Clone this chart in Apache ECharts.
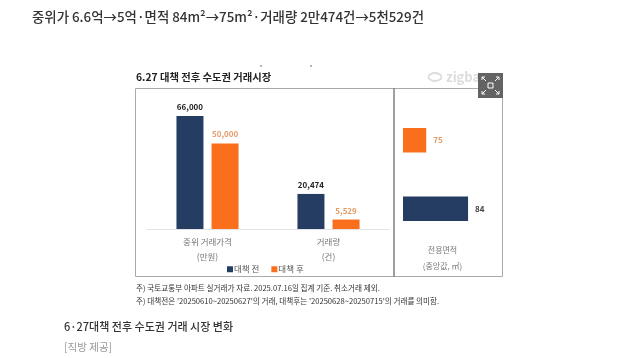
<!DOCTYPE html>
<html><head><meta charset="utf-8">
<style>html,body{margin:0;padding:0;background:#fff}#c{width:632px;height:358px}</style>
<script src="https://cdn.jsdelivr.net/npm/echarts@6/dist/echarts.min.js"></script>
</head><body><div id="c"></div>
<script>
const categories = ['중위 거래가격\n(만원)', '거래량\n(건)'];
const beforeValues = [66000, 20474];
const afterValues = [50000, 5529];
const areaCategories = ['전', '후'];
const areaBefore = [84, null];
const areaAfter = [null, 75];
const headline = '중위가 6.6억→5억·면적 84m²→75m²·거래량 2만474건→5천529건';
const chartTitle = '6.27 대책 전후 수도권 거래시장';
const notes = ['주) 국토교통부 아파트 실거래가 자료. 2025.07.16일 집계 기준. 취소거래 제외.',
  '주) 대책전은 \'20250610~20250627\'의 거래, 대책후는 \'20250628~20250715\'의 거래를 의미함.'];
const caption = '6·27대책 전후 수도권 거래 시장 변화';
const credit = '[직방 제공]';
const NAVY = '#253d63', ORANGE = '#f96f1c';
const FF = '"Noto Sans CJK KR","Noto Sans",sans-serif';
const txt = (x, y, text, size, fill, weight) => ({type:'text', x, y, style:{text, font:`${weight||400} ${size}px ${FF}`, fill, textVerticalAlign:'middle'}});
const arrow = (x1,y1,x2,y2) => ({type:'line', shape:{x1,y1,x2,y2}, style:{stroke:'#fff', lineWidth:1}});
const chart = echarts.init(document.getElementById('c'), null, {renderer:'canvas'});
chart.setOption({
  animation:false,
  textStyle:{fontFamily:FF},
  legend:{data:[{name:'대책 전'},{name:'대책 후'}], left:222, top:260, itemWidth:6, itemHeight:6, itemGap:12, icon:'rect',
    textStyle:{fontSize:8.5, color:'#555', padding:[0,0,0,-4]}},
  grid:[{left:147, width:242, top:92, height:137},{left:403, width:79, top:106, height:137}],
  xAxis:[
    {type:'category', gridIndex:0, data:categories, axisTick:{show:false}, axisLine:{lineStyle:{color:'#e3e3e3'}},
      axisLabel:{fontSize:8.5, color:'#777', lineHeight:15, margin:5}},
    {type:'value', gridIndex:1, min:70, max:87, show:true, splitLine:{show:false}, axisLine:{show:false}, axisTick:{show:false}, axisLabel:{show:false},
      name:'전용면적\n(중앙값, ㎡)', nameLocation:'middle', nameGap:-1, nameTextStyle:{fontSize:8, color:'#777', lineHeight:16, verticalAlign:'top'}}
  ],
  yAxis:[
    {type:'value', gridIndex:0, min:0, max:80000, show:false},
    {type:'category', gridIndex:1, data:areaCategories, show:false}
  ],
  series:[
    {name:'대책 전', type:'bar', xAxisIndex:0, yAxisIndex:0, data:beforeValues, barWidth:27, barGap:'30%', itemStyle:{color:NAVY},
      label:{show:true, position:'top', distance:5, fontSize:8, fontWeight:'bold', color:'#222', formatter:p=>p.value.toLocaleString('en-US')}},
    {name:'대책 후', type:'bar', xAxisIndex:0, yAxisIndex:0, data:afterValues, barWidth:27, itemStyle:{color:ORANGE},
      label:{show:true, position:'top', distance:5, fontSize:8, fontWeight:'bold', color:'#e39a66', formatter:p=>p.value.toLocaleString('en-US')}},
    {name:'대책 전', type:'bar', xAxisIndex:1, yAxisIndex:1, data:areaBefore, stack:'area', barWidth:24.5, itemStyle:{color:NAVY},
      label:{show:true, position:'right', distance:7, fontSize:8, fontWeight:'bold', color:'#444'}},
    {name:'대책 후', type:'bar', xAxisIndex:1, yAxisIndex:1, data:areaAfter, stack:'area', barWidth:24.5, itemStyle:{color:ORANGE},
      label:{show:true, position:'right', distance:7, fontSize:8, fontWeight:'bold', color:'#e39a66'}}
  ],
  graphic:{elements:[
    txt(32,17,headline,13.4,'#333',500),
    txt(136,77,chartTitle,10.3,'#222',700),
    txt(136,288,notes[0],7.6,'#333'),
    txt(136,301,notes[1],7.6,'#333'),
    txt(64,327,caption,11,'#333',500),
    txt(64,347,credit,10.5,'#999'),
    {type:'rect', shape:{x:135.5,y:88.5,width:367,height:188}, style:{fill:'none',stroke:'#aaa',lineWidth:1}},
    {type:'line', shape:{x1:394,y1:88,x2:394,y2:277}, style:{stroke:'#808080',lineWidth:1.5}},
    {type:'circle', shape:{cx:261,cy:66,r:0.7}, style:{fill:'#333'}},
    {type:'circle', shape:{cx:311,cy:66,r:0.7}, style:{fill:'#333'}},
    {type:'ellipse', shape:{cx:435,cy:77,rx:6.5,ry:4}, style:{fill:'none',stroke:'#dcdcdc',lineWidth:1.8}},
    txt(446,77,'zigbang',13,'#dcdcdc',700),
    {type:'group', z:10, children:[
      {type:'rect', shape:{x:478,y:73,width:25,height:25}, style:{fill:'#636363'}},
      {type:'rect', shape:{x:488,y:83,width:5,height:5}, style:{fill:'none',stroke:'#fff',lineWidth:1}},
      arrow(482,77,486,81),arrow(482,77,485,77),arrow(482,77,482,80),
      arrow(499,77,495,81),arrow(499,77,496,77),arrow(499,77,499,80),
      arrow(482,94,486,90),arrow(482,94,485,94),arrow(482,94,482,91),
      arrow(499,94,495,90),arrow(499,94,496,94),arrow(499,94,499,91)
    ]}
  ]}
});
</script></body></html>
